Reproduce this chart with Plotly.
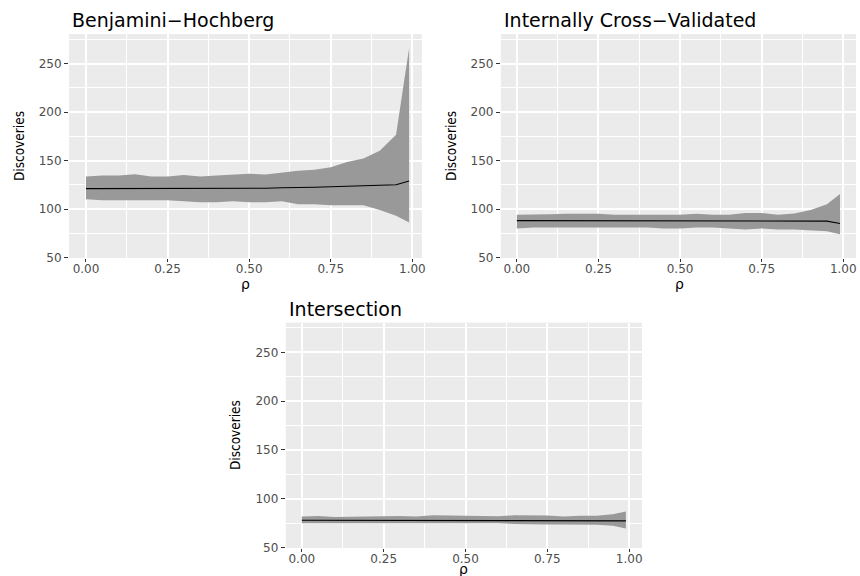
import plotly.graph_objects as go

rho = [0.00, 0.05, 0.10, 0.15, 0.20, 0.25, 0.30, 0.35, 0.40, 0.45, 0.50,
       0.55, 0.60, 0.65, 0.70, 0.75, 0.80, 0.85, 0.90, 0.95, 0.99]

bh_mean = [121, 121, 121, 121, 121, 121, 121, 121, 121, 121.5, 121.5,
           121.5, 122, 122, 122.5, 123, 123.5, 124, 125, 125, 129]
bh_upper = [133.5, 134.5, 134.5, 136, 133.5, 133.5, 135, 133.5, 134.5, 135.5, 136.5,
            135.5, 137.5, 139.5, 140.5, 143, 148.5, 152, 160, 176.5, 266]
bh_lower = [110, 109, 109, 109, 109, 109, 108, 107, 107, 108, 107,
            107, 108, 105, 105, 104, 104, 104, 99, 93, 86]

icv_mean = [88, 88, 88, 88, 88, 88, 88, 88, 88, 88, 88,
            88, 88, 87.5, 87.5, 87.5, 87.5, 87.5, 87.5, 87.5, 85]
icv_upper = [94, 94, 94.5, 95, 95, 95, 94, 94, 94, 94, 94,
             95, 94, 94, 96, 96, 94, 95.5, 99, 105, 115.5]
icv_lower = [80, 81, 81, 81, 81, 81, 81, 81, 81, 80, 80,
             81, 81, 80, 79, 80, 79, 79, 78, 77, 74]

int_mean = [78, 78, 78, 78, 78, 78, 78, 78, 78, 78, 78,
            78, 78, 78, 78, 77.8, 77.8, 77.7, 77.6, 77.5, 77.3]
int_upper = [81.7, 82.4, 81.3, 81.5, 81.5, 81.5, 82.4, 81.8, 83, 82.8, 82.5,
             82.5, 82, 83, 83, 82.8, 81.7, 82.5, 82.5, 84, 87]
int_lower = [75, 75, 75, 75, 75, 75, 75, 75, 75, 75, 75,
             75, 75, 74, 73.6, 73.6, 73.6, 73.6, 73.3, 72.3, 69.6]

titles = ["Benjamini\u2212Hochberg", "Internally Cross\u2212Validated", "Intersection"]
x_ticks = [0, 0.25, 0.5, 0.75, 1.0]
x_ticklabels = ["0.00", "0.25", "0.50", "0.75", "1.00"]
y_ticks = [50, 100, 150, 200, 250]
y_ticklabels = ["50", "100", "150", "200", "250"]

W, H = 860, 576
KX, KY = 0.995, 0.986  # observed shrink of the photographed page
# panel pixel boxes in the final picture: left, right, top, bottom
panels = [
    (69, 421.7, 34, 257.5, [-0.052, 1.029]),
    (500.7, 857.7, 34, 257.5, [-0.049, 1.039]),
    (285.7, 641.7, 322, 547, [-0.049, 1.039]),
]
series = [(bh_mean, bh_upper, bh_lower), (icv_mean, icv_upper, icv_lower),
          (int_mean, int_upper, int_lower)]


def px(x):
    return min(1.0, x / KX / W)


def py(y):
    return max(0.0, 1 - y / KY / H)


fig = go.Figure()
tick_font = dict(family="DejaVu Sans", size=12, color="#4D4D4D")

for i, ((l, r, t, b, xr), (m, up, lo)) in enumerate(zip(panels, series)):
    sfx = "" if i == 0 else str(i + 1)
    xa, ya = "x" + sfx, "y" + sfx
    fig.add_trace(go.Scatter(x=rho, y=lo, mode="lines", line=dict(width=0),
                             xaxis=xa, yaxis=ya, showlegend=False, hoverinfo="skip"))
    fig.add_trace(go.Scatter(x=rho, y=up, mode="lines", line=dict(width=0),
                             fill="tonexty", fillcolor="#999999",
                             xaxis=xa, yaxis=ya, showlegend=False, hoverinfo="skip"))
    fig.add_trace(go.Scatter(x=rho, y=m, mode="lines", line=dict(color="black", width=1.1),
                             xaxis=xa, yaxis=ya, showlegend=False))
    common = dict(showgrid=True, gridcolor="white", gridwidth=1.5, zeroline=False,
                  showline=False, ticks="outside", tickwidth=1,
                  tickcolor="#333333", tickfont=tick_font)
    fig.layout["xaxis" + sfx] = dict(
        domain=[px(l), px(r)], range=xr, anchor=ya,
        tickvals=x_ticks, ticktext=x_ticklabels, ticklen=3, ticklabelstandoff=-3,
        minor=dict(showgrid=True, gridcolor="white", gridwidth=0.7,
                   tickvals=[0.125, 0.375, 0.625, 0.875]),
        **common)
    fig.layout["yaxis" + sfx] = dict(
        domain=[py(b), py(t)], range=[49.5, 280.5], anchor=xa,
        tickvals=y_ticks, ticktext=y_ticklabels, ticklen=4,
        minor=dict(showgrid=True, gridcolor="white", gridwidth=0.7,
                   tickvals=[75, 125, 175, 225, 275]),
        **common)
    # panel title
    fig.add_annotation(text=titles[i], xref="paper", yref="paper",
                       x=px(l + 1), y=py(t - 14), xanchor="left", yanchor="middle",
                       showarrow=False, font=dict(family="DejaVu Sans", size=19, color="black"))
    # x-axis title
    fig.add_annotation(text="\u03c1", xref="paper", yref="paper",
                       x=px((l + r) / 2), y=py(b + 26), xanchor="center", yanchor="middle",
                       showarrow=False, font=dict(family="DejaVu Sans", size=14, color="black"))
    # y-axis title
    fig.add_annotation(text="Discoveries", xref="paper", yref="paper",
                       x=px(l - 50), y=py((t + b) / 2), xanchor="center", yanchor="middle",
                       textangle=-90, showarrow=False,
                       font=dict(family="DejaVu Sans Condensed, DejaVu Sans", size=13.5, color="black"))

fig.update_layout(width=W, height=H, margin=dict(l=0, r=0, t=0, b=0),
                  paper_bgcolor="white", plot_bgcolor="#EBEBEB")
fig.write_html("out.html", config={"displayModeBar": False},
               post_script="document.body.style.margin='0px';"
                           "document.body.style.overflow='hidden';")
